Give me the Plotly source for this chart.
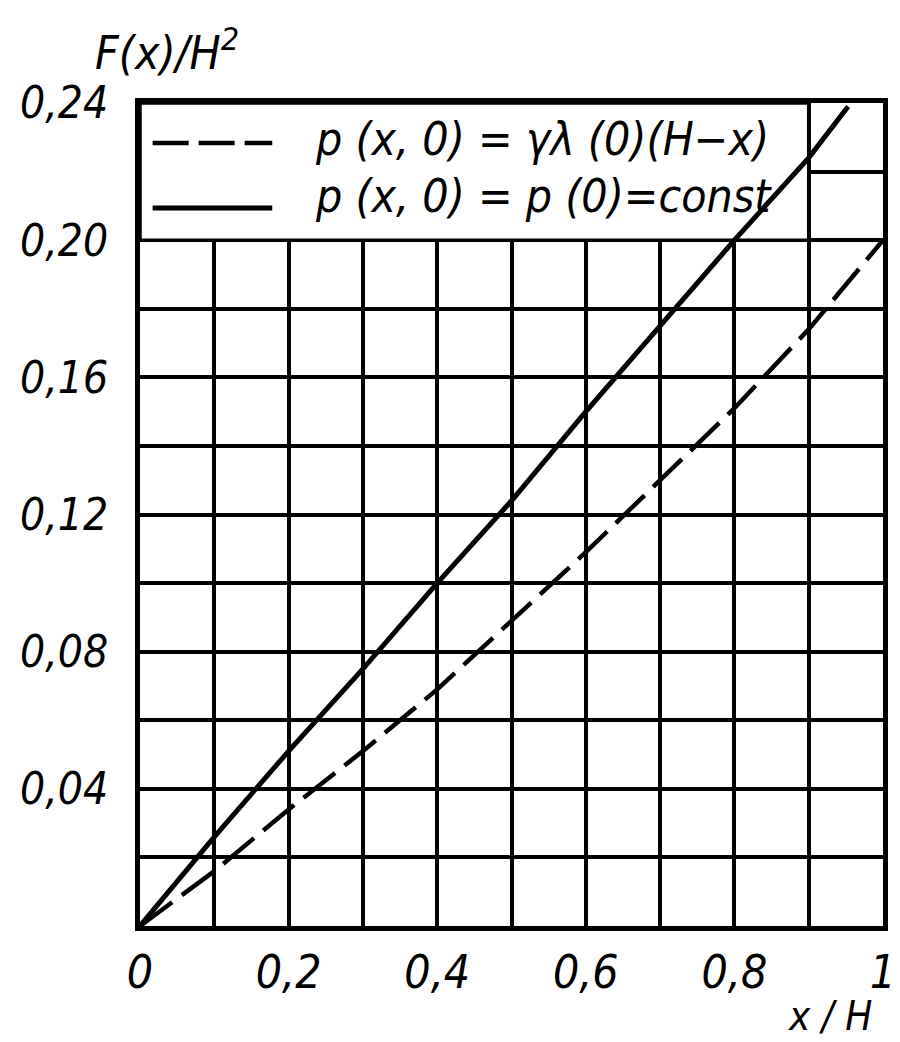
import plotly.graph_objects as go

# Data
x_vals = [0.0, 0.1, 0.2, 0.3, 0.4, 0.5, 0.6, 0.7, 0.8, 0.9, 0.953]
solid_vals = [0.0, 0.026, 0.051, 0.075, 0.100, 0.124, 0.150, 0.175, 0.200, 0.224, 0.239]

x_dash = [0.0, 0.1, 0.2, 0.3, 0.4, 0.5, 0.6, 0.7, 0.8, 0.9, 1.0]
dash_vals = [0.0, 0.016, 0.034, 0.051, 0.069, 0.089, 0.109, 0.130, 0.151, 0.174, 0.200]

x_tickvals = [0.0, 0.1, 0.2, 0.3, 0.4, 0.5, 0.6, 0.7, 0.8, 0.9, 1.0]
x_ticktext = ["0", "", "0,2", "", "0,4", "", "0,6", "", "0,8", "", "1"]
y_tickvals = [0.0, 0.02, 0.04, 0.06, 0.08, 0.10, 0.12, 0.14, 0.16, 0.18, 0.20, 0.22, 0.24]
y_ticktext = ["", "", "0,04", "", "0,08", "", "0,12", "", "0,16", "", "0,20", "", "0,24"]

legend_labels = ["p (x, 0) = γλ (0)(H−x)", "p (x, 0) = p (0)=const"]

FONT = "Liberation Sans Narrow, DejaVu Sans Condensed, Arial Narrow, DejaVu Sans"

W, H = 900, 1042
L, R, T, B = 130, 13, 95, 124
pw, ph = W - L - R, H - T - B


def px_to_paper(px, py):
    return (px - L) / pw, 1 - (py - T) / ph


fig = go.Figure()
fig.add_trace(go.Scatter(x=x_dash, y=dash_vals, mode="lines",
                         line=dict(color="black", width=4.5, dash="40px,12px"),
                         showlegend=False))
fig.add_trace(go.Scatter(x=x_vals, y=solid_vals, mode="lines",
                         line=dict(color="black", width=5),
                         showlegend=False))

# Legend box (white, covering the grid)
fig.add_shape(type="rect", xref="x", yref="y", x0=0, x1=0.9, y0=0.2, y1=0.24,
              fillcolor="white", line=dict(color="black", width=3.5), layer="between")
# Legend keys
fig.add_shape(type="line", xref="x", yref="y", x0=0.017, x1=0.178, y0=0.2283, y1=0.2283,
              line=dict(color="black", width=4.5, dash="36px,10px"), layer="between")
fig.add_shape(type="line", xref="x", yref="y", x0=0.017, x1=0.178, y0=0.2094, y1=0.2094,
              line=dict(color="black", width=5), layer="between")

fig.add_annotation(x=0.233, y=0.2295, xref="x", yref="y", text=legend_labels[0],
                   showarrow=False, xanchor="left", yanchor="middle",
                   font=dict(family=FONT, size=46, color="black", style="italic"))
fig.add_annotation(x=0.233, y=0.2130, xref="x", yref="y", text=legend_labels[1],
                   showarrow=False, xanchor="left", yanchor="middle",
                   font=dict(family=FONT, size=46, color="black", style="italic"))

# Axis titles
tx, ty = px_to_paper(158, 42)
fig.add_annotation(x=tx, y=ty, xref="paper", yref="paper", text="F(x)/H<sup>2</sup>",
                   showarrow=False, xanchor="center", yanchor="middle",
                   font=dict(family=FONT, size=46, color="black", style="italic"))
tx, ty = px_to_paper(833, 1008)
fig.add_annotation(x=tx, y=ty, xref="paper", yref="paper", text="x / H",
                   showarrow=False, xanchor="center", yanchor="middle",
                   font=dict(family=FONT, size=40, color="black", style="italic"))

fig.update_layout(
    width=W, height=H,
    margin=dict(l=L, r=R, t=T, b=B),
    paper_bgcolor="white", plot_bgcolor="white",
    showlegend=False,
    xaxis=dict(range=[0, 1], tickvals=x_tickvals, ticktext=x_ticktext,
               showgrid=True, gridcolor="black", gridwidth=3.5,
               showline=True, linecolor="black", linewidth=5, mirror=True,
               zeroline=False, ticks="", ticklabelstandoff=2,
               tickfont=dict(family=FONT, size=46, color="black", style="italic")),
    yaxis=dict(range=[0, 0.24], tickvals=y_tickvals, ticktext=y_ticktext,
               showgrid=True, gridcolor="black", gridwidth=3.5,
               showline=True, linecolor="black", linewidth=5, mirror=True,
               zeroline=False, ticks="", ticklabelstandoff=18,
               tickfont=dict(family=FONT, size=44, color="black", style="italic")),
)

fig.write_html("out.html")
